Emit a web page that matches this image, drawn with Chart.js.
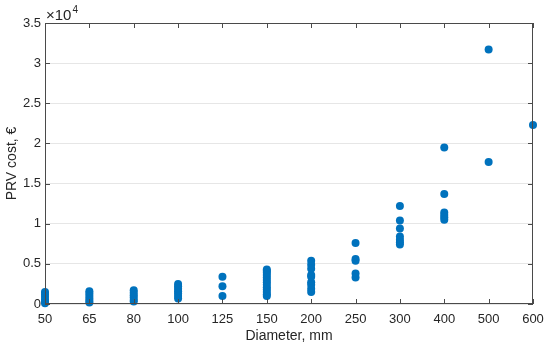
<!DOCTYPE html>
<html>
<head>
<meta charset="utf-8">
<script src="https://cdn.jsdelivr.net/npm/chart.js@4"></script>
<style>
  html, body { margin: 0; padding: 0; background: #fff; }
  #wrap { width: 550px; height: 349px; }
</style>
</head>
<body>
<div id="wrap"><canvas id="chart"></canvas></div>
<script>
// diameters, mm (equally spaced categories)
const diameters = ['50', '65', '80', '100', '125', '150', '200', '250', '300', '400', '500', '600'];

// PRV cost, EUR, per diameter
const cost50 = [1500, 1200, 900, 600, 300, 100];
const cost65 = [1600, 1300, 1000, 700, 400, 200];
const cost80 = [1700, 1400, 1100, 800, 500, 300];
const cost100 = [2500, 2200, 1900, 1600, 1300, 1000, 700];
const cost125 = [3400, 2200, 1000];
const cost150 = [4300, 4100, 3900, 3600, 3300, 3000, 2700, 2400, 2100, 1800, 1500, 1200, 1000];
const cost200 = [5400, 4900, 4400, 3600, 3400, 2700, 2400, 1900, 1500];
const cost250 = [7600, 5600, 5400, 3800, 3300];
const cost300 = [12200, 10400, 9400, 8400, 8000, 7700, 7400];
const cost400 = [19500, 13700, 11400, 11100, 10800, 10500];
const cost500 = [31700, 17700];
const cost600 = [22300];

const yTicks = [0, 5000, 10000, 15000, 20000, 25000, 30000, 35000];

const allCosts = [cost50, cost65, cost80, cost100, cost125, cost150, cost200, cost250, cost300, cost400, cost500, cost600];
const points = [];
allCosts.forEach((arr, i) => arr.forEach(v => points.push({x: diameters[i], y: v})));

const axisColor = '#4a4a4a';
const tickFont = {family: 'Liberation Sans, Arial, sans-serif', size: 13};
const titleFont = {family: 'Liberation Sans, Arial, sans-serif', size: 14};

// MATLAB-style box with inward ticks and the exponent label
const boxPlugin = {
    id: 'box',
    afterDraw(chart) {
        const {ctx, chartArea: a, scales} = chart;
        ctx.save();
        ctx.strokeStyle = axisColor;
        ctx.lineWidth = 1;
        ctx.strokeRect(a.left + 0.5, a.top + 0.5, a.right - a.left - 1, a.bottom - a.top - 1);
        ctx.beginPath();
        scales.x.ticks.forEach((t, i) => {
            const px = Math.round(scales.x.getPixelForTick(i)) + 0.5;
            ctx.moveTo(px, a.bottom); ctx.lineTo(px, a.bottom - 5);
            ctx.moveTo(px, a.top); ctx.lineTo(px, a.top + 5);
        });
        scales.y.ticks.forEach((t, i) => {
            const py = Math.round(scales.y.getPixelForTick(i)) + 0.5;
            ctx.moveTo(a.left, py); ctx.lineTo(a.left + 5, py);
            ctx.moveTo(a.right, py); ctx.lineTo(a.right - 5, py);
        });
        ctx.stroke();
        ctx.fillStyle = '#262626';
        ctx.font = '15px Liberation Sans, Arial, sans-serif';
        ctx.textBaseline = 'alphabetic';
        ctx.fillText('\u00d710', a.left + 1, a.top - 3);
        const w = ctx.measureText('\u00d710').width;
        ctx.font = '10px Liberation Sans, Arial, sans-serif';
        ctx.fillText('4', a.left + 1 + w + 1, a.top - 10);
        ctx.restore();
    }
};

new Chart(document.getElementById('chart'), {
    type: 'scatter',
    data: {
        labels: diameters,
        datasets: [{
            data: points,
            backgroundColor: '#0072BD',
            borderColor: '#0072BD',
            pointRadius: 4,
            pointHoverRadius: 4,
            borderWidth: 0,
            clip: false
        }]
    },
    options: {
        responsive: true,
        maintainAspectRatio: false,
        animation: false,
        layout: {padding: {top: 23, right: 17, left: 0, bottom: 0}},
        plugins: {legend: {display: false}, tooltip: {enabled: false}},
        scales: {
            x: {
                type: 'category',
                labels: diameters,
                offset: false,
                grid: {display: false, drawTicks: false},
                border: {display: false},
                ticks: {color: '#262626', font: tickFont, padding: 8, maxRotation: 0, autoSkip: false},
                title: {display: true, text: 'Diameter, mm', color: '#262626', font: titleFont, padding: {top: 1}},
                afterFit(s) { s.height = 45; s.paddingLeft = 0; s.paddingRight = 0; }
            },
            y: {
                min: 0,
                max: 35000,
                afterBuildTicks(s) { s.ticks = yTicks.map(v => ({value: v})); },
                grid: {color: '#e6e6e6', drawTicks: false},
                border: {display: false},
                ticks: {
                    color: '#262626', font: tickFont, padding: 4,
                    callback: v => String(v / 10000)
                },
                title: {display: true, text: 'PRV cost, \u20ac', color: '#262626', font: titleFont, padding: {bottom: 2}},
                afterFit(s) { s.width = 45; s.paddingTop = 0; s.paddingBottom = 0; }
            }
        }
    },
    plugins: [boxPlugin]
});
</script>
</body>
</html>
